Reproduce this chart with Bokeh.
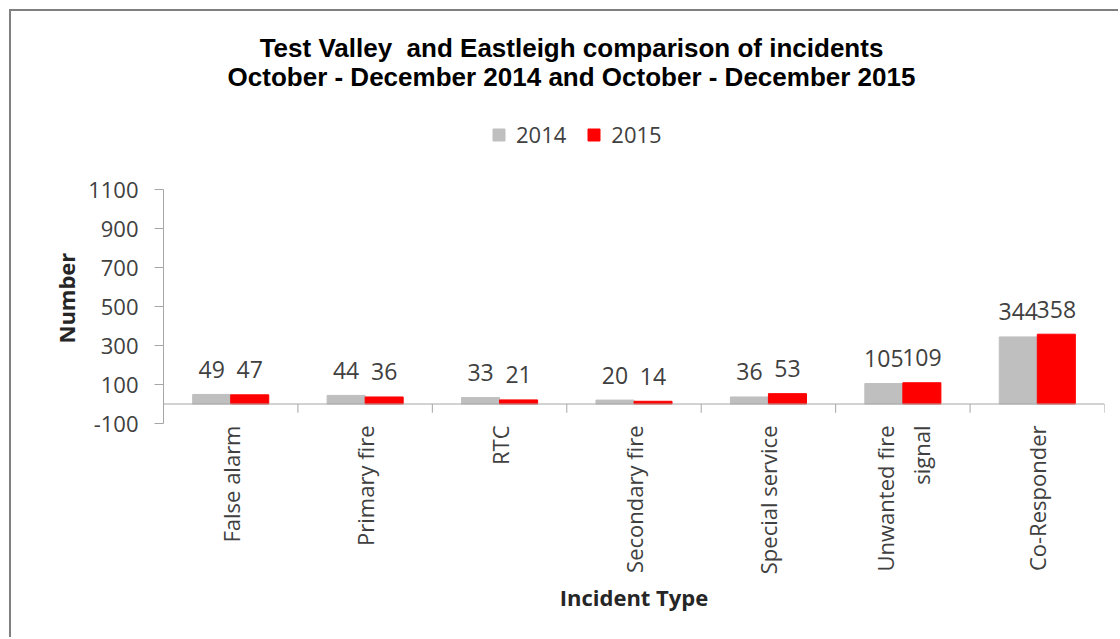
import math
from bokeh.plotting import figure
from bokeh.models import (FactorRange, Range1d, FixedTicker, Label, Legend, LegendItem,
                          ColumnDataSource, Span, Title)
from bokeh.transform import dodge
from bokeh.core.properties import value
from bokeh.embed import file_html
from bokeh.resources import INLINE

# ---- data ----
categories = ["False alarm", "Primary fire", "RTC", "Secondary fire",
              "Special service", "Unwanted fire\nsignal", "Co-Responder"]
values_2014 = [49, 44, 33, 20, 36, 105, 344]
values_2015 = [47, 36, 21, 14, 53, 109, 358]
series_names = ["2014", "2015"]
y_ticks = [-100, 100, 300, 500, 700, 900, 1100]
title_lines = ["Test Valley\u00a0 and Eastleigh comparison of incidents",
               "October - December 2014 and October - December 2015"]
x_title = "Incident Type"
y_title = "Number"

GRAY = "#bfbfbf"
RED = "#ff0000"
AXIS = "#a6a6a6"
TXT = "#404040"
FONT = "Open Sans"

# ---- layout (pixels) ----
W, H = 1109, 628
PLOT_LEFT, PLOT_RIGHT_PAD, PLOT_BOTTOM_PAD = 152, 16, 216
VALUE_AXIS_TOP_PX = 178          # distance from canvas top to the 1100 gridline
frame_h = H - PLOT_BOTTOM_PAD
px_per_unit = (frame_h - VALUE_AXIS_TOP_PX) / (y_ticks[-1] - y_ticks[0])
y_top = y_ticks[-1] + VALUE_AXIS_TOP_PX / px_per_unit

src = ColumnDataSource(dict(
    cat=categories, v14=values_2014, v15=values_2015,
    t14=[str(v) for v in values_2014], t15=[str(v) for v in values_2015]))

p = figure(x_range=FactorRange(factors=categories, range_padding=0),
           y_range=Range1d(y_ticks[0], y_top),
           width=W, height=H, output_backend="svg", toolbar_location=None,
           min_border_left=PLOT_LEFT, min_border_right=PLOT_RIGHT_PAD, min_border_top=0,
           min_border_bottom=PLOT_BOTTOM_PAD)
p.styles = {"margin-left": "9px", "margin-top": "9px",
            "border-left": "2px solid #808080", "border-top": "2px solid #808080"}
p.outline_line_color = None
p.grid.visible = False
p.background_fill_color = "white"
p.border_fill_color = "white"

bw = 0.283
r14 = p.vbar(x=dodge("cat", -bw / 2, range=p.x_range), top="v14", bottom=0, width=bw,
             fill_color=GRAY, line_color=GRAY, source=src)
r15 = p.vbar(x=dodge("cat", bw / 2, range=p.x_range), top="v15", bottom=0, width=bw,
             fill_color=RED, line_color=RED, source=src)

for col, off in (("14", -bw / 2), ("15", bw / 2)):
    p.text(x=dodge("cat", off, range=p.x_range), y="v" + col, text="t" + col,
           text_align="center", text_baseline="alphabetic", y_offset=-25,
           text_font=value(FONT), text_font_size="23px", text_color=TXT, source=src)

# zero line and category boundary ticks
p.add_layout(Span(location=0, dimension="width", line_color=AXIS, line_width=1))
bounds = list(range(len(categories) + 1))
p.segment(x0=bounds, y0=[0] * len(bounds), x1=bounds, y1=[-45] * len(bounds),
          line_color=AXIS, line_width=1)

# y axis
ya = p.yaxis[0]
ya.ticker = FixedTicker(ticks=y_ticks)
ya.bounds = (y_ticks[0], y_ticks[-1])
ya.major_label_overrides = {t: str(t) for t in y_ticks}
ya.major_tick_out = 9
ya.major_tick_in = 0
ya.minor_tick_line_color = None
ya.axis_line_color = AXIS
ya.major_tick_line_color = AXIS
ya.major_label_standoff = 16
ya.major_label_text_font = FONT
ya.major_label_text_font_size = "22px"
ya.major_label_text_color = TXT

# value-axis title, placed alongside the axis
p.add_layout(Title(text=y_title, align="left", offset=80, vertical_align="bottom",
                   standoff=10, text_font=FONT, text_font_style="bold",
                   text_font_size="22px", text_color="#262626"), "left")

# x axis
xa = p.xaxis[0]
xa.major_label_orientation = math.pi / 2
xa.axis_line_color = None
xa.major_tick_line_color = None
xa.major_tick_out = 0
xa.major_tick_in = 0
xa.major_label_standoff = 2
xa.major_label_text_font = FONT
xa.major_label_text_font_size = "22px"
xa.major_label_text_color = TXT
xa.axis_label = x_title
xa.axis_label_text_font = FONT
xa.axis_label_text_font_style = "bold"
xa.axis_label_text_font_size = "22px"
xa.axis_label_text_color = "#262626"
xa.axis_label_standoff = 5

# titles
for line, yoff in zip(title_lines, (142, 113)):
    p.add_layout(Label(x=0, y=y_ticks[-1], x_offset=408, y_offset=yoff, text=line,
                       text_align="center", text_baseline="middle",
                       text_font="Liberation Sans", text_font_style="bold",
                       text_font_size="26px", text_color="#000000"))

legend = Legend(items=[LegendItem(label=series_names[0], renderers=[r14]),
                       LegendItem(label=series_names[1], renderers=[r15])],
                orientation="horizontal", location=(328, 274), padding=0, margin=0,
                spacing=20, glyph_width=15, glyph_height=15, label_standoff=10,
                border_line_color=None, background_fill_alpha=0,
                label_text_font=FONT, label_text_font_size="22px",
                label_text_color=TXT)
p.add_layout(legend, "center")

open("out.html", "w").write(file_html(p, INLINE))
